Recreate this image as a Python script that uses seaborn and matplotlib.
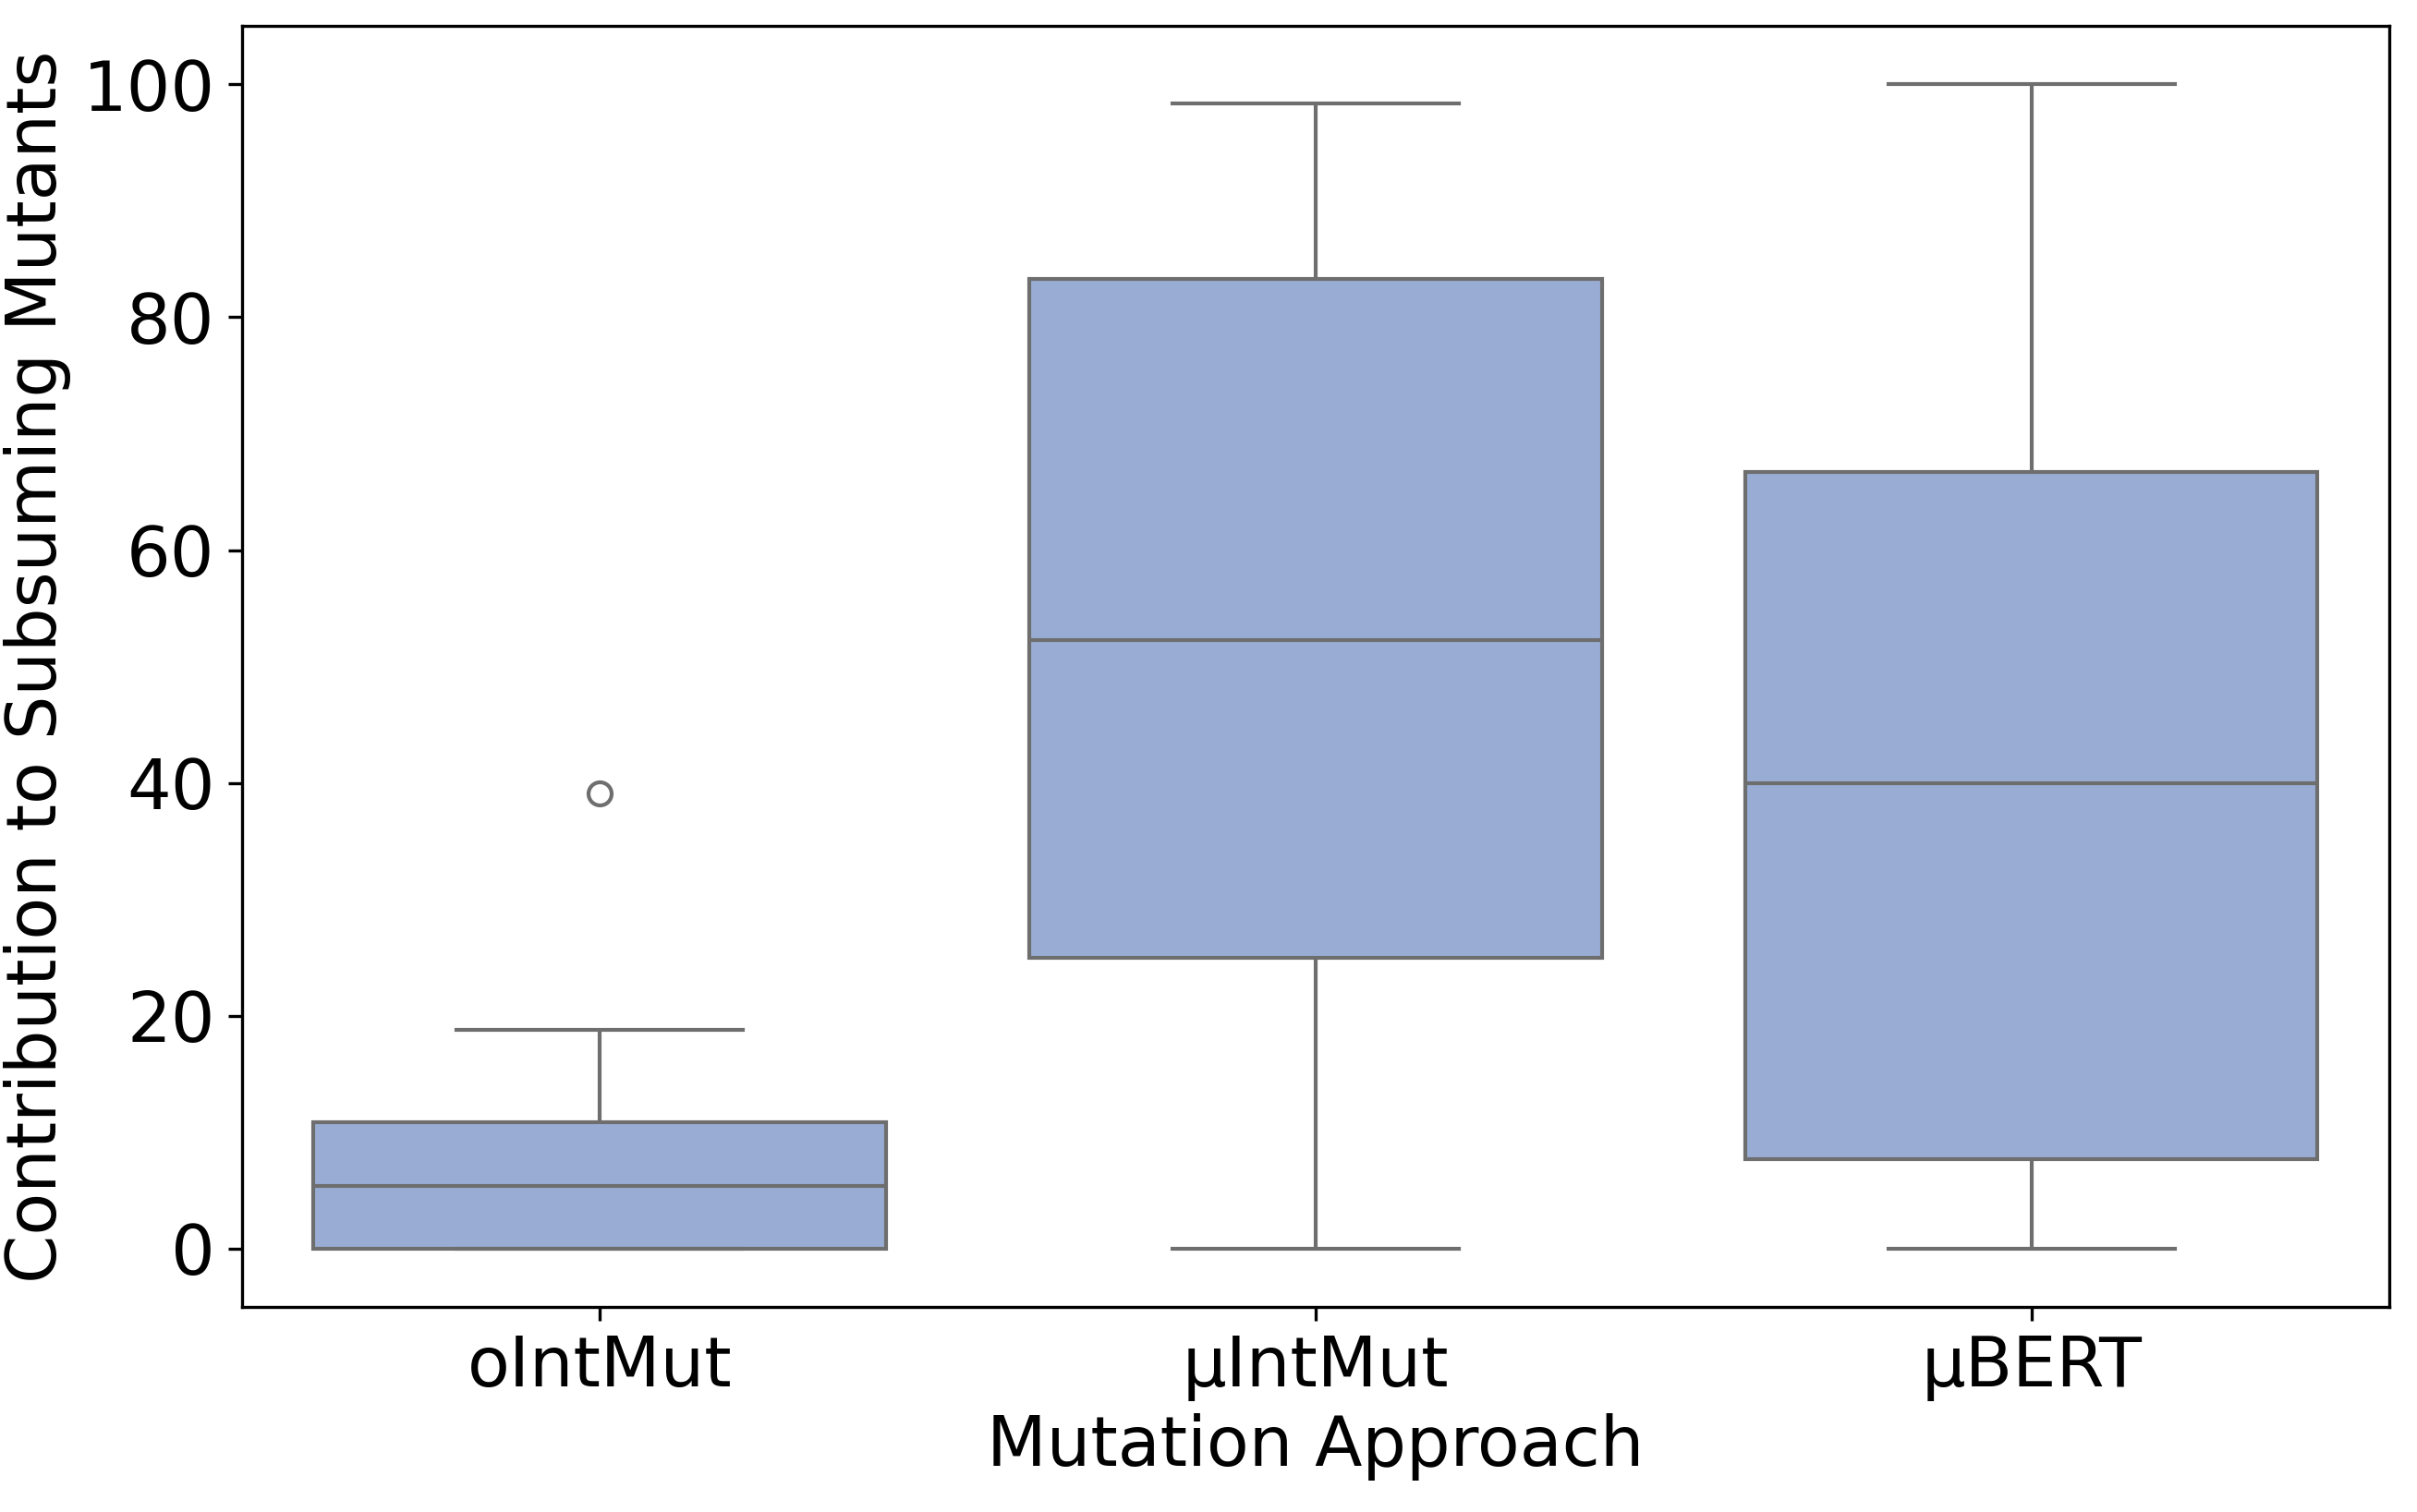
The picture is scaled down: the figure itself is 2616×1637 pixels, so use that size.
import pandas as pd
import seaborn as sns
import matplotlib.pyplot as plt

# Contribution (%) per subject
approaches = ['oIntMut', 'μIntMut', 'μBERT']
oint_vals = [0.0, 0.0, 0.0, 2.9, 5.4, 7.1, 10.9, 18.8, 39.1]
uint_vals = [0.0, 12.5, 25.0, 40.0, 52.3, 66.7, 83.3, 90.9, 98.4]
ubert_vals = [0.0, 3.3, 7.7, 20.0, 40.0, 50.0, 66.7, 85.7, 100.0]

df = pd.DataFrame({
    'Mutation Approach': [approaches[0]] * len(oint_vals)
                         + [approaches[1]] * len(uint_vals)
                         + [approaches[2]] * len(ubert_vals),
    'Contribution to Subsuming Mutants': oint_vals + uint_vals + ubert_vals,
})

plt.rcParams['font.family'] = ['DejaVu Sans']
fig = plt.figure(figsize=(2616 / 300, 1637 / 300), dpi=300)
ax = fig.add_axes([0.1001, 0.1356, 0.8884, 0.8471])

sns.boxplot(data=df, x='Mutation Approach', y='Contribution to Subsuming Mutants',
            order=approaches, color='#99add4', saturation=1, linecolor='#6e6e6e',
            ax=ax)

ax.set_xlabel('Mutation Approach', fontsize=18, labelpad=3)
ax.set_ylabel('Contribution to Subsuming Mutants', fontsize=18, labelpad=3)
ax.tick_params(axis='both', labelsize=18)
ax.set_yticks([0, 20, 40, 60, 80, 100])

fig.savefig('out.png', dpi=300)
